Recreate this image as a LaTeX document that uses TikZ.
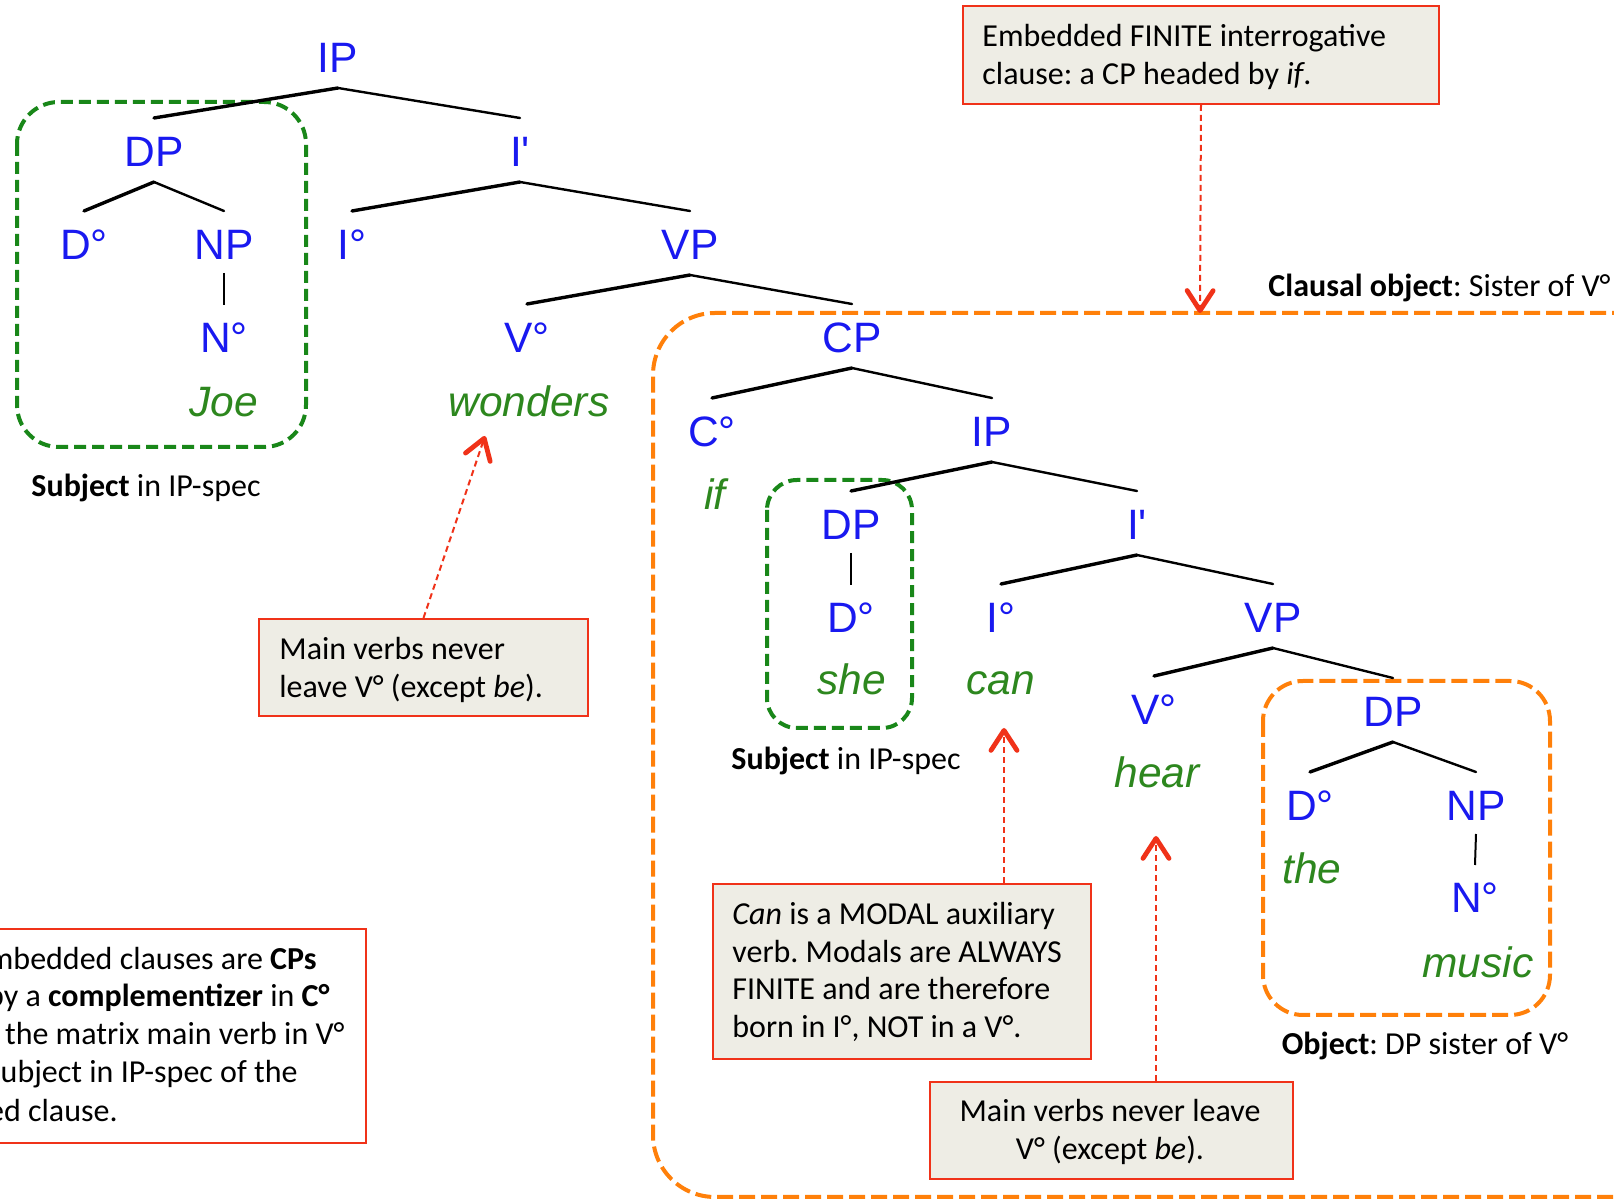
\documentclass[tikz,border=0pt]{standalone}
\usepackage{fontspec}
\setmainfont{Carlito}
\newfontfamily\treefont{Liberation Sans}
\usetikzlibrary{arrows.meta,calc}
\frenchspacing
\definecolor{tblue}{RGB}{25,25,240}
\definecolor{tgreen}{RGB}{45,135,30}
\definecolor{gbox}{RGB}{25,135,25}
\definecolor{obox}{RGB}{255,128,10}
\definecolor{nred}{RGB}{240,50,25}
\definecolor{nfill}{RGB}{238,237,229}
\newcommand{\txt}{\fontsize{16pt}{18.75pt}\selectfont}
\newcommand{\trf}{\treefont\fontsize{21.25pt}{25pt}\selectfont}
\newcommand\treebranch[3]{%
  \draw[brL] ($(#2.base)+(0,-49)$) -- ($(#1.base)+(0,15)$);
  \draw[brR] ($(#1.base)+(0,15)$) -- ($(#3.base)+(0,-49)$);}
\newcommand\treeunary[2]{\draw[unary] ($(#1.base)+(0,13)$) -- ($(#2.base)+(0,-48)$);}
\tikzset{
  lab/.style={font=\trf, text=tblue, inner sep=0pt, anchor=base},
  word/.style={font=\trf\itshape, text=tgreen, inner sep=0pt, anchor=base},
  brL/.style={line width=1.7pt, line cap=round},
  brR/.style={line width=1.2pt, line cap=round},
  unary/.style={line width=1pt},
  gdash/.style={draw=gbox, line width=2pt, dash pattern=on 6pt off 3pt},
  odash/.style={draw=obox, line width=2pt, dash pattern=on 8pt off 3pt},
  notebox/.style={draw=nred, fill=nfill, line width=1pt, inner sep=0pt, anchor=north west},
  notetext/.style={font=\txt, inner sep=0pt},
  ann/.style={draw=nred, line width=1pt, dash pattern=on 3pt off 2pt,
    -{Straight Barb[length=10pt,width=13pt,line width=2.4pt,round]}},
  caption/.style={font=\txt, inner sep=0pt, anchor=base},
}
\begin{document}
\begin{tikzpicture}[x=0.5pt,y=-0.5pt]
\fill[white] (0,0) rectangle (1614,1202);
\useasboundingbox (0,0) rectangle (1614,1202);

% clausal object box (runs off the right edge)
\draw[odash, rounded corners=31pt] (1760,313) -- (653,313) -- (653,1197) -- (1760,1197);
\node[caption, anchor=base east] (clausal) at (1611,297) {\textbf{Clausal object}: Sister of V°};

% subject / object boxes
\draw[gdash, rounded corners=21pt] (17,102) rectangle (306,447);
\node[caption] (subj1) at (146,497) {\textbf{Subject} in IP-spec};
\draw[gdash, rounded corners=15pt] (767,480) rectangle (912,728);
\node[caption] (subj2) at (846,770) {\textbf{Subject} in IP-spec};
\draw[odash, rounded corners=20pt] (1263,681) rectangle (1550,1015);
\node[caption] (obj) at (1425,1055) {\textbf{Object}: DP sister of V°};

% note boxes
\node[notebox, minimum width=238pt, minimum height=49pt] (b1) at (962,5) {};
\node[notetext, anchor=base west] (b1t) at (982,47) {\begin{tabular}[t]{@{}l@{}}Embedded FINITE interrogative\\ clause: a CP headed by \textit{if}.\end{tabular}};

\node[notebox, minimum width=164.5pt, minimum height=48.5pt] (b2) at (258,618) {};
\node[notetext, anchor=base west] (b2t) at (279,660) {\begin{tabular}[t]{@{}l@{}}Main verbs never\\ leave V° (except \textit{be}).\end{tabular}};

\node[notebox, minimum width=189pt, minimum height=87.5pt] (b3) at (712,883) {};
\node[notetext, anchor=base west] (b3t) at (732,925) {\begin{tabular}[t]{@{}l@{}}\textit{Can} is a MODAL auxiliary\\ verb. Modals are ALWAYS\\ FINITE and are therefore\\ born in I°, NOT in a V°.\end{tabular}};

\node[notebox, minimum width=181.5pt, minimum height=48.5pt] (b4) at (929,1081) {};
\node[notetext, anchor=base] (b4t) at (1110,1122) {\begin{tabular}[t]{@{}c@{}}Main verbs never leave\\ V° (except \textit{be}).\end{tabular}};

\node[notebox, fill=white, minimum width=197.5pt, minimum height=107pt] (b5) at (-30,928) {};
\node[notetext, anchor=base east] (b5a) at (317,970) {Embedded clauses are \textbf{CPs}};
\node[notetext, anchor=base east] (b5b) at (330,1007) {by a \textbf{complementizer} in \textbf{C°}};
\node[notetext, anchor=base east] (b5c) at (345,1045) {of the matrix main verb in V°};
\node[notetext, anchor=base east] (b5d) at (298,1083) {Subject in IP-spec of the};
\node[notetext, anchor=base east] (b5e) at (118,1122) {embedded clause.};

% arrow targets
\coordinate (t0) at (1200,313);
\coordinate (t1) at (485,436);
\coordinate (t2) at (1004,728);
\coordinate (t3) at (1156,836);
\draw[ann] (b1.south) -- (t0);
\draw[ann] (b2.north) -- (t1);
\draw[ann] (b3.north -| t2) -- (t2);
\draw[ann] (b4.north -| t3) -- (t3);

% tree labels
\node[lab] (IPa) at (338,73) {IP};
\node[lab] (DPa) at (154,167) {DP};
\node[lab] (Iba) at (520,167) {I'};
\node[lab] (Da) at (84,260) {D°};
\node[lab] (NPa) at (224,260) {NP};
\node[lab] (Na) at (224,353) {N°};
\node[word] (joe) at (224,417) {Joe};
\node[lab] (Ia) at (352,260) {I°};
\node[lab] (VPa) at (690,260) {VP};
\node[lab] (Va) at (527,353) {V°};
\node[word] (wonders) at (529,417) {wonders};
\node[lab] (CP) at (852,353) {CP};
\node[lab] (C) at (712,447) {C°};
\node[word] (if) at (715,510) {if};
\node[lab] (IPb) at (992,447) {IP};
\node[lab] (DPb) at (851,540) {DP};
\node[lab] (Db) at (851,633) {D°};
\node[word] (she) at (852,695) {she};
\node[lab] (Ibb) at (1137,540) {I'};
\node[lab] (Ib) at (1001,633) {I°};
\node[word] (can) at (1001,695) {can};
\node[lab] (VPb) at (1273,633) {VP};
\node[lab] (Vb) at (1154,725) {V°};
\node[word] (hear) at (1157,788) {hear};
\node[lab] (DPc) at (1393,727) {DP};
\node[lab] (Dc) at (1310,821) {D°};
\node[word] (the) at (1312,884) {the};
\node[lab] (NPc) at (1476,821) {NP};
\node[lab] (Nc) at (1475,913) {N°};
\node[word] (music) at (1478,978) {music};

% branches
\treebranch{IPa}{DPa}{Iba}
\treebranch{DPa}{Da}{NPa}
\treeunary{NPa}{Na}
\treebranch{Iba}{Ia}{VPa}
\treebranch{VPa}{Va}{CP}
\treebranch{CP}{C}{IPb}
\treebranch{IPb}{DPb}{Ibb}
\treeunary{DPb}{Db}
\treebranch{Ibb}{Ib}{VPb}
\treebranch{VPb}{Vb}{DPc}
\treebranch{DPc}{Dc}{NPc}
\treeunary{NPc}{Nc}
\end{tikzpicture}
\end{document}
